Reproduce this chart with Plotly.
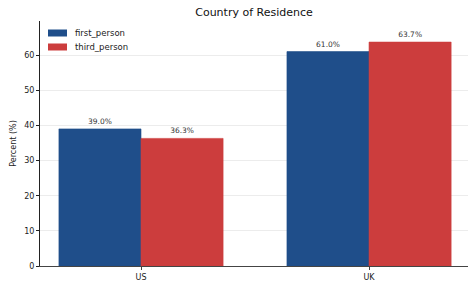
import plotly.graph_objects as go

categories = ["US", "UK"]
series_names = ["first_person", "third_person"]
first_person = [39.0, 61.0]
third_person = [36.3, 63.7]
colors = ["#1f4e8a", "#cc3d3d"]
y_ticks = [0, 10, 20, 30, 40, 50, 60]

fig = go.Figure()
for name, vals, col in zip(series_names, [first_person, third_person], colors):
    fig.add_trace(go.Bar(
        x=categories, y=vals, name=name,
        marker=dict(color=col, line=dict(width=0.6, color=col)),
        texttemplate="%{y:.1f}%", textposition="outside",
        textfont=dict(size=7.5, color="#333333"), cliponaxis=False,
        showlegend=False, hoverinfo="skip",
    ))

# custom legend (wide patches like the reference)
W, H = 428.0, 245.0
for i, (name, col) in enumerate(zip(series_names, colors)):
    cy = (245 - (33 + 14 * i - 21)) / H
    fig.add_shape(type="rect", xref="paper", yref="paper",
                  x0=8 / W, x1=27 / W, y0=cy - 3.5 / H, y1=cy + 3.5 / H,
                  fillcolor=col, line=dict(width=0))
    fig.add_annotation(xref="paper", yref="paper", x=33 / W, y=cy,
                       xanchor="left", yanchor="middle", showarrow=False,
                       text=name, font=dict(size=8.5, color="#222222"))

fig.update_layout(
    width=468, height=284,
    margin=dict(l=40, r=0, t=21, b=18, autoexpand=False),
    paper_bgcolor="white", plot_bgcolor="white",
    font=dict(family="DejaVu Sans", size=8, color="#222222"),
    title=dict(text="Country of Residence", x=0.5, xanchor="center", xref="paper",
               y=1 - 12 / 284, yanchor="middle",
               font=dict(size=11, color="#111111")),
    barmode="group", bargap=0.28, bargroupgap=0,
    showlegend=False,
    uniformtext=dict(minsize=6, mode="show"),
    hovermode=False,
)
fig.update_xaxes(
    type="category", range=[-0.443, 1.434], automargin=False,
    showline=True, linecolor="#444444", linewidth=1.2,
    ticks="outside", ticklen=3, tickcolor="#444444",
    showgrid=False, tickfont=dict(size=8, color="#222222"),
)
fig.update_yaxes(
    range=[0, 69.7], tickvals=y_ticks, automargin=False,
    showline=True, linecolor="#222222", linewidth=1,
    ticks="outside", ticklen=3, tickcolor="#222222",
    showgrid=True, gridcolor="rgba(200,200,200,0.35)", gridwidth=1,
    zeroline=False, layer="above traces",
    title=dict(text="Percent (%)", font=dict(size=8, color="#222222"), standoff=6),
    tickfont=dict(size=8, color="#222222"),
)

fig.write_html("out.html", config={"displayModeBar": False, "staticPlot": True},
               post_script="document.body.style.margin='0';document.body.style.padding='0';")
